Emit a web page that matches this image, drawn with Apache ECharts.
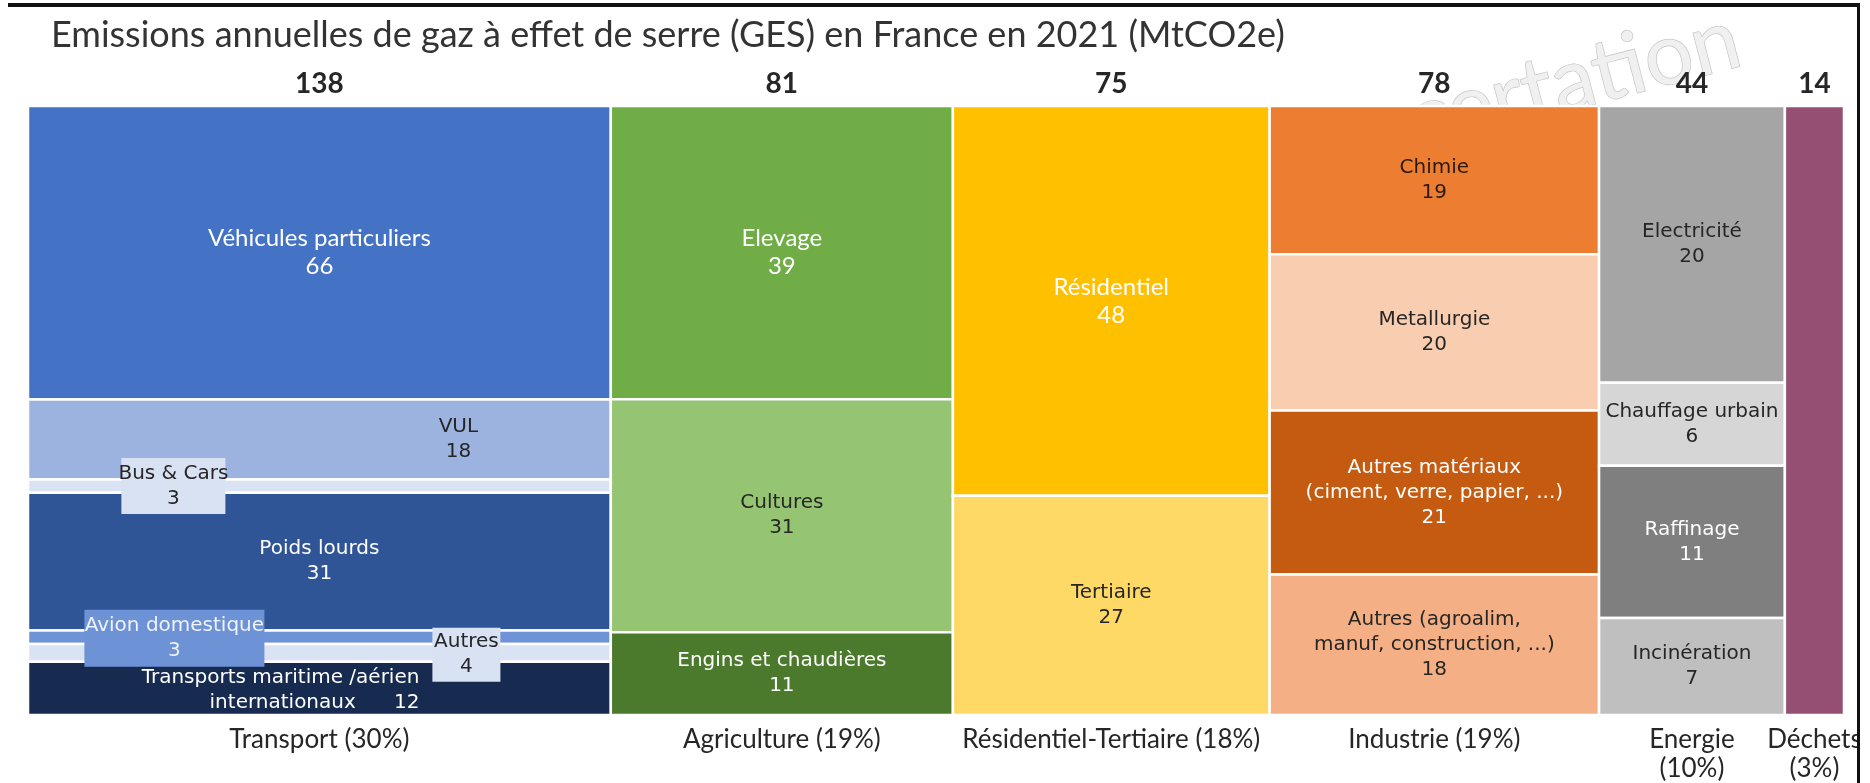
<!DOCTYPE html>
<html><head><meta charset="utf-8">
<script src="https://cdn.jsdelivr.net/npm/echarts@6/dist/echarts.min.js"></script>
<style>html,body{margin:0;padding:0;background:#fff}#c{width:1870px;height:783px}</style>
</head><body><div id="c"></div>
<script>
// ---------- DATA ----------
const sectorNames = ['Transport (30%)', 'Agriculture (19%)', 'Résidentiel-Tertiaire (18%)', 'Industrie (19%)', 'Energie\n(10%)', 'Déchets\n(3%)'];
const sectorTotals = [138, 81, 75, 78, 44, 14];

const transportNames = ['Véhicules particuliers', 'VUL', 'Bus & Cars', 'Poids lourds', 'Avion domestique', 'Autres', 'Transports maritime /aérien\ninternationaux'];
const transportValues = [66, 18, 3, 31, 3, 4, 12];
const agricultureNames = ['Elevage', 'Cultures', 'Engins et chaudières'];
const agricultureValues = [39, 31, 11];
const residentialNames = ['Résidentiel', 'Tertiaire'];
const residentialValues = [48, 27];
const industryNames = ['Chimie', 'Metallurgie', 'Autres matériaux\n(ciment, verre, papier, ...)', 'Autres (agroalim,\nmanuf, construction, ...)'];
const industryValues = [19, 20, 21, 18];
const energyNames = ['Electricité', 'Chauffage urbain', 'Raffinage', 'Incinération'];
const energyValues = [20, 6, 11, 7];
const wasteNames = ['Déchets'];
const wasteValues = [14];

const titleText = 'Emissions annuelles de gaz à effet de serre (GES) en France en 2021 (MtCO2e)';
const watermarkText = 'Concertation';

// ---------- STYLES ----------
const segNames = [transportNames, agricultureNames, residentialNames, industryNames, energyNames, wasteNames];
const segValues = [transportValues, agricultureValues, residentialValues, industryValues, energyValues, wasteValues];
const segColors = [
  ['#4472C4', '#9CB3DF', '#DAE3F3', '#2F5597', '#6E93D6', '#DAE3F3', '#172B50'],
  ['#70AD47', '#95C473', '#4B7A2C'],
  ['#FFC000', '#FFD966'],
  ['#ED7D31', '#F8CDB0', '#C55A11', '#F4B084'],
  ['#A5A5A5', '#D6D6D6', '#7F7F7F', '#BFBFBF'],
  ['#954F72']
];
const FONTS = {
  lato: {fontFamily: 'Lato', fontSize: 24, lineHeight: 28},
  mar: {fontFamily: '"DejaVu Sans"', fontSize: 20, lineHeight: 25}
};
const DARK = '#262626', WHITE = '#ffffff';
const labelStyles = [
  [
    {c: WHITE, f: 'lato'},
    {c: DARK, f: 'mar', dx: 139},
    {c: DARK, f: 'mar', dx: -146, box: {bg: '#D9E2F3', w: 104, h: 56}},
    {c: WHITE, f: 'mar'},
    {c: '#EEF2FA', f: 'mar', dx: -145, dy: 1, box: {bg: '#6D92D5', w: 180, h: 57}},
    {c: DARK, f: 'mar', dx: 147, dy: 2, box: {bg: '#D9E2F3', w: 68, h: 54}},
    {c: WHITE, f: 'mar', dx: 100, dy: 2, align: 'right', inline: 6}
  ],
  [{c: WHITE, f: 'lato'}, {c: DARK, f: 'mar'}, {c: WHITE, f: 'mar'}],
  [{c: WHITE, f: 'lato'}, {c: DARK, f: 'mar'}],
  [{c: '#2a1a10', f: 'mar'}, {c: DARK, f: 'mar'}, {c: WHITE, f: 'mar'}, {c: DARK, f: 'mar'}],
  [{c: DARK, f: 'mar'}, {c: DARK, f: 'mar'}, {c: WHITE, f: 'mar'}, {c: DARK, f: 'mar'}],
  [{hide: true}]
];

// ---------- BUILD ----------
const grandTotal = sectorTotals.reduce((a, b) => a + b, 0);
const segData = [], colData = [];
let xc = 0;
sectorTotals.forEach((tot, ci) => {
  const x0 = xc, x1 = xc + tot;
  colData.push([x0, x1, tot, ci]);
  const vals = segValues[ci];
  const s = vals.reduce((a, b) => a + b, 0);
  let acc = 0;
  vals.forEach((v, si) => {
    const yTop = 1 - acc / s;
    acc += v;
    const yBot = 1 - acc / s;
    segData.push([x0, x1, yBot, yTop, ci, si]);
  });
  xc = x1;
});

function renderSegment(params, api) {
  const ci = api.value(4), si = api.value(5);
  const tl = api.coord([api.value(0), api.value(3)]);
  const br = api.coord([api.value(1), api.value(2)]);
  const w = br[0] - tl[0], h = br[1] - tl[1];
  const cx = tl[0] + w / 2, cy = tl[1] + h / 2;
  const children = [{
    type: 'rect', z2: 0,
    shape: {x: tl[0], y: tl[1], width: w, height: h},
    style: {fill: segColors[ci][si], stroke: '#ffffff', lineWidth: 2.5}
  }];
  const st = labelStyles[ci][si] || {};
  if (!st.hide) {
    const name = segNames[ci][si], val = segValues[ci][si];
    const text = st.inline ? name + ' '.repeat(st.inline) + val : name + '\n' + val;
    const lx = cx + (st.dx || 0), ly = cy + (st.dy || 0);
    if (st.box) {
      children.push({type: 'rect', z2: 10,
        shape: {x: lx - st.box.w / 2, y: ly - st.box.h / 2, width: st.box.w, height: st.box.h},
        style: {fill: st.box.bg}});
    }
    const f = FONTS[st.f];
    children.push({type: 'text', z2: 11, x: lx, y: ly,
      style: {text: text, fill: st.c, fontFamily: f.fontFamily, fontSize: f.fontSize, lineHeight: f.lineHeight,
        align: st.align || 'center', verticalAlign: 'middle'}});
  }
  return {type: 'group', children: children};
}

function renderColumn(params, api) {
  const x0 = api.value(0), x1 = api.value(1), tot = api.value(2), ci = api.value(3);
  const top = api.coord([(x0 + x1) / 2, 1]);
  const bot = api.coord([(x0 + x1) / 2, 0]);
  return {type: 'group', children: [
    {type: 'text', x: top[0], y: top[1] - 22,
      style: {text: String(tot), fill: '#262626', fontFamily: 'Lato', fontWeight: 'bold', fontSize: 28, align: 'center', verticalAlign: 'middle'}},
    {type: 'text', x: bot[0], y: bot[1] + 10,
      style: {text: sectorNames[ci], fill: '#262626', fontFamily: 'Lato', fontSize: 26, lineHeight: 29, align: 'center', verticalAlign: 'top'}}
  ]};
}

const chart = echarts.init(document.getElementById('c'), null, {renderer: 'canvas'});
chart.setOption({
  animation: false,
  backgroundColor: '#ffffff',
  title: {text: titleText, left: 46, top: 12,
    textStyle: {fontFamily: 'Lato', fontWeight: 'normal', fontSize: 36, color: '#333333'}},
  graphic: [
    {type: 'text', x: 1738, y: 38, rotation: 0.255, z: -1,
      style: {text: watermarkText, fontFamily: 'Lato', fontSize: 86, fill: '#f0f0f0', stroke: '#c4c4c4', lineWidth: 1.4,
        align: 'right', verticalAlign: 'middle'}},
    {type: 'rect', shape: {x: 1860, y: 0, width: 10, height: 783}, style: {fill: '#ffffff'}, z: 100},
    {type: 'rect', shape: {x: 1857, y: 4, width: 3, height: 779}, style: {fill: '#111111'}, z: 101},
    {type: 'rect', shape: {x: 8, y: 3, width: 1852, height: 4}, style: {fill: '#111111'}, z: 101}
  ],
  grid: {left: 28, right: 26, top: 106, bottom: 68},
  xAxis: {type: 'value', min: 0, max: grandTotal,
    axisLine: {show: true, onZero: false, lineStyle: {color: '#1a1a1a', width: 2}},
    axisTick: {show: false}, axisLabel: {show: false}, splitLine: {show: false}},
  yAxis: {type: 'value', min: 0, max: 1, show: false},
  series: [
    {type: 'custom', renderItem: renderSegment, data: segData, clip: false, z: 2},
    {type: 'custom', renderItem: renderColumn, data: colData, clip: false, z: 3}
  ]
});
</script>
</body></html>
